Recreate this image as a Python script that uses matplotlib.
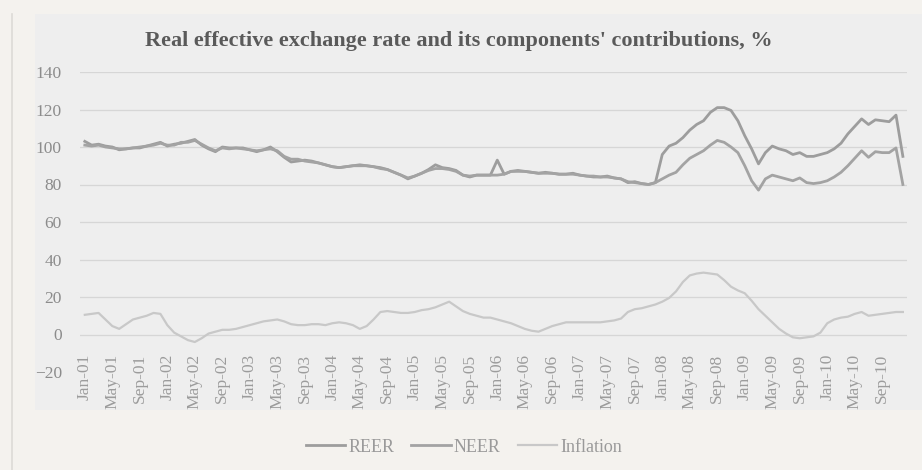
import pandas as pd
import matplotlib
matplotlib.use("Agg")
import matplotlib.pyplot as plt
from matplotlib.patches import Rectangle
from matplotlib.lines import Line2D

# monthly index, Jan-01 .. Dec-10
months = pd.date_range("2001-01-01", periods=120, freq="MS")
month_labels = [d.strftime("%b-%y") for d in months]

reer = [103, 101, 101.5, 100.5, 100, 98.5, 99, 99.5, 99.5, 100.5,
        101.5, 102.5, 100.5, 101.5, 102, 103, 104, 101, 99, 97.5,
        100, 99.5, 99.5, 99.5, 98.5, 97.5, 98.5, 100, 97.5, 94.5,
        92, 92.5, 93, 92.5, 91.5, 90.5, 89.5, 89, 89.5, 90,
        90.5, 90, 89.5, 89, 88, 86.5, 85, 83, 84.5, 86,
        88, 90.5, 89, 88.5, 87.5, 85, 84, 85, 85, 85,
        93, 85.5, 87, 87.5, 87, 86.5, 86, 86.5, 86, 85.5,
        85.5, 86, 85, 84.5, 84, 84, 84.5, 83.5, 83, 81,
        81.5, 80.5, 80, 81, 96, 100.5, 102, 105, 109, 112,
        114, 118.5, 121, 121, 119.5, 114, 106, 99, 91, 97,
        100.5, 99, 98, 96, 97, 95, 95, 96, 97, 99,
        102, 107, 111, 115, 112, 114.5, 114, 113.5, 117, 95]

neer = [101, 100.5, 101, 100, 99.5, 99, 99, 99.5, 100, 100.5,
        101, 102, 101, 101, 102.5, 102.5, 103.5, 101.5, 99.5, 98,
        99.5, 99, 99.5, 99, 98.5, 98, 98.5, 99, 98, 95,
        93.5, 93.5, 92.5, 92, 91.5, 90.5, 89.5, 89, 89.5, 90,
        90, 90, 89.5, 88.5, 88, 86.5, 85, 83.5, 84.5, 86,
        87.5, 88.5, 88.5, 88, 87, 85, 84.5, 85, 85, 85,
        85, 85.5, 87, 87, 87, 86.5, 86, 86, 86, 85.5,
        85.5, 85.5, 85, 84.5, 84.5, 84, 84, 83.5, 83, 81.5,
        81, 80.5, 80, 81, 83, 85, 86.5, 90.5, 94, 96,
        98, 101, 103.5, 102.5, 100, 97, 90, 82, 77, 83,
        85, 84, 83, 82, 83.5, 81, 80.5, 81, 82, 84,
        86.5, 90, 94, 98, 94.5, 97.5, 97, 97, 99.5, 80]

inflation = [10.5, 11, 11.5, 8, 4.5, 3, 5.5, 8, 9, 10,
             11.5, 11, 5, 1, -1, -3, -4, -2, 0.5, 1.5,
             2.5, 2.5, 3, 4, 5, 6, 7, 7.5, 8, 7,
             5.5, 5, 5, 5.5, 5.5, 5, 6, 6.5, 6, 5,
             3, 4.5, 8, 12, 12.5, 12, 11.5, 11.5, 12, 13,
             13.5, 14.5, 16, 17.5, 15, 12.5, 11, 10, 9, 9,
             8, 7, 6, 4.5, 3, 2, 1.5, 3, 4.5, 5.5,
             6.5, 6.5, 6.5, 6.5, 6.5, 6.5, 7, 7.5, 8.5, 12,
             13.5, 14, 15, 16, 17.5, 19.5, 23, 28, 31.5, 32.5,
             33, 32.5, 32, 29, 25.5, 23.5, 22, 18, 13.5, 10,
             6.5, 3, 0.5, -1.5, -2, -1.5, -1, 1, 6, 8,
             9, 9.5, 11, 12, 10, 10.5, 11, 11.5, 12, 12]

yticks = [-20, 0, 20, 40, 60, 80, 100, 120, 140]

plt.rcParams["font.family"] = ["Liberation Serif", "DejaVu Serif"]

fig = plt.figure(figsize=(9.22, 4.70), dpi=100)
fig.patch.set_facecolor("#f4f2ee")
# grey chart panel and the thin left border
fig.add_artist(Rectangle((35 / 922, 1 - 410 / 470), 1 - 35 / 922, (410 - 14) / 470,
                         transform=fig.transFigure, facecolor="#eeeeee",
                         edgecolor="none", zorder=0))
fig.add_artist(Line2D([12 / 922, 12 / 922], [0.0, 1 - 14 / 470],
                      transform=fig.transFigure, color="#dcdad6", lw=1.2))

ax = fig.add_axes([80 / 922, 1 - 372 / 470, 827 / 922, 300 / 470])
ax.set_facecolor("none")

x = list(range(len(months)))
ax.plot(x, reer, color="#9d9d9d", lw=2.0, label="REER", zorder=3)
ax.plot(x, neer, color="#a3a3a3", lw=2.0, label="NEER", zorder=3)
ax.plot(x, inflation, color="#c8c8c8", lw=1.6, label="Inflation", zorder=3)

for v in yticks[1:]:
    ax.axhline(v, color="#d6d6d6", lw=0.9, zorder=1)

ax.set_xlim(-0.7, 119.6)
ax.set_ylim(-20, 140)
ax.set_yticks(yticks)
ax.tick_params(axis="y", length=0, pad=13, labelsize=12.5, labelcolor="#8c8c8c")

# category labels hang just below the zero line
ax.spines["bottom"].set_position(("data", 0))
for s in ["top", "right", "left", "bottom"]:
    ax.spines[s].set_visible(False)
ax.set_xticks(x[::4])
ax.set_xticklabels(month_labels[::4], rotation=90, fontsize=12.5, color="#9c9c9c")
ax.tick_params(axis="x", length=0, pad=14)

fig.text(0.498, 1 - 41 / 470, "Real effective exchange rate and its components' contributions, %",
         ha="center", va="center", fontsize=16, fontweight="bold", color="#5a5a5a")

fig.legend(loc="center", bbox_to_anchor=(0.503, 1 - 447 / 470), ncol=3, frameon=False,
           fontsize=13, handlelength=2.2, columnspacing=0.95, handletextpad=0.15,
           labelcolor="#9a9a9a")

fig.savefig("out.png", dpi=100, facecolor=fig.get_facecolor())
